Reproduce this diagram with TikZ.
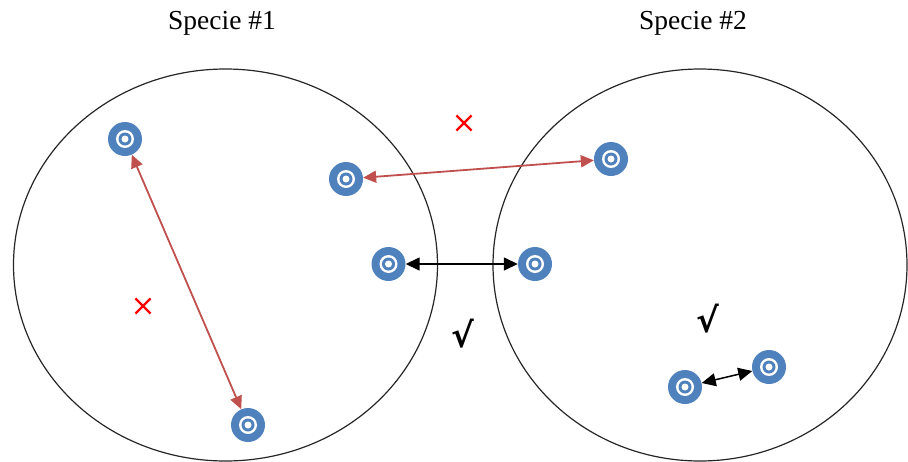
\documentclass[tikz,border=0pt]{standalone}
\usepackage{fontspec}
\setmainfont{Liberation Serif}
\newfontfamily\checkfont{DejaVu Sans}
\usetikzlibrary{arrows.meta,shapes.misc}
\definecolor{indblue}{RGB}{79,129,189}
\definecolor{linkred}{RGB}{192,80,77}

\begin{document}
\begin{tikzpicture}[
  x=1pt,y=-1pt,
  species/.style={draw=black!85,line width=1.2pt},
  indiv/.style={circle,fill=indblue,minimum size=34pt,inner sep=0pt,
    path picture={
      \fill[white] (path picture bounding box.center) circle (9pt);
      \fill[indblue] (path picture bounding box.center) circle (6.5pt);
      \fill[white] (path picture bounding box.center) circle (3.5pt);}},
  farlink/.style={{Triangle[length=13pt,width=12pt]}-{Triangle[length=13pt,width=12pt]},
    draw=linkred,line width=1.8pt},
  nearlink/.style={{Triangle[length=14pt,width=13pt]}-{Triangle[length=14pt,width=13pt]},
    draw=black,line width=1.5pt},
  reject/.style={cross out,draw=red,line width=2.2pt,minimum size=13pt,inner sep=0pt},
  accept/.style={font=\checkfont\bfseries\fontsize{34}{38}\selectfont,inner sep=0pt},
  title/.style={font=\fontsize{27.5}{32}\selectfont},
]
\useasboundingbox (0,0) rectangle (908,461);

%% the two species
\draw[species] (225.5,265) ellipse [x radius=212,y radius=196];
\draw[species] (700,265) ellipse [x radius=207,y radius=196];
\node[title] (sp1) at (222,23) {Specie \#1};
\node[title] (sp2) at (693,23) {Specie \#2};

%% individuals
\node[indiv] (a1) at (125,139) {};
\node[indiv] (a2) at (346,179) {};
\node[indiv] (a3) at (388.5,264) {};
\node[indiv] (a4) at (248,425) {};
\node[indiv] (b1) at (611,159) {};
\node[indiv] (b2) at (535,264) {};
\node[indiv] (b3) at (685,387) {};
\node[indiv] (b4) at (769,367) {};

%% mating links
\draw[farlink] (a1) -- (a4);
\draw[farlink] (a2) -- (b1);
\draw[nearlink] (a3) -- (b2);
\draw[nearlink] (b3) -- (b4);

%% marks
\node[reject] (x1) at (464,123) {};
\node[reject] (x2) at (143,306) {};
\node[accept] (v1) at (463,334) {√};
\node[accept] (v2) at (708,319) {√};
\end{tikzpicture}
\end{document}
